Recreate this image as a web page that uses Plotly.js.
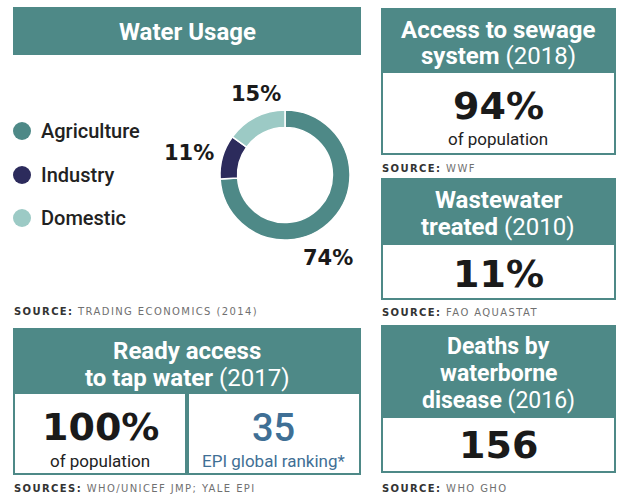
<!DOCTYPE html>
<html><head><meta charset="utf-8">
<script src="https://cdn.plot.ly/plotly-3.0.1.min.js"></script>
<style>html,body{margin:0;padding:0;background:#fff}</style>
</head><body><div id="chart" style="width:627px;height:494px"></div>
<script>
// ---- data ----
const usageCategories = ['Agriculture', 'Industry', 'Domestic'];
const usageValues = [74, 11, 15];
const usageColors = ['#4e8987', '#2c2b5c', '#9ccac5'];

const sewageAccess = 94;      // % of population (2018)
const wastewaterTreated = 11; // % (2010)
const tapWaterAccess = 100;   // % of population (2017)
const epiRanking = 35;        // EPI global ranking
const waterborneDeaths = 156; // deaths (2016)

const panelTitles = [
  ['Water Usage'],
  ['Access to sewage', 'system|(2018)'],
  ['Wastewater', 'treated|(2010)'],
  ['Ready access', 'to tap water|(2017)'],
  ['Deaths by', 'waterborne', 'disease|(2016)']
];
const sourceLabels = [
  ['SOURCE:', 'TRADING ECONOMICS (2014)'],
  ['SOURCE:', 'WWF'],
  ['SOURCE:', 'FAO AQUASTAT'],
  ['SOURCES:', 'WHO/UNICEF JMP; YALE EPI'],
  ['SOURCE:', 'WHO GHO']
];

// ---- layout helpers ----
const W = 627, H = 494;
const TEAL = '#4e8987';
const X = p => p / W, Y = p => 1 - p / H;

const shapes = [];
const annotations = [];
function rect(x0, y0, x1, y1, fill) {
  shapes.push({type: 'rect', xref: 'paper', yref: 'paper', x0: X(x0), x1: X(x1), y0: Y(y1), y1: Y(y0),
    fillcolor: fill, line: {width: 0}, layer: 'below'});
}
function text(t, x, y, size, color, family, opts) {
  annotations.push(Object.assign({text: t, xref: 'paper', yref: 'paper', x: X(x), y: Y(y),
    xanchor: 'center', yanchor: 'middle', showarrow: false, borderpad: 0,
    font: {size: size, color: color, family: family}}, opts || {}));
  return annotations.length - 1;
}
function titleLine(s) {
  const parts = s.split('|');
  return parts.length > 1 ? '<b>' + parts[0] + '</b> ' + parts[1] : '<b>' + parts[0] + '</b>';
}
function box(x0, y0, x1, yh, y1, title, lineYs, size) {
  rect(x0, y0, x1, y1, TEAL);
  if (y1 > yh) rect(x0 + 2, yh, x1 - 2, y1 - 2, '#ffffff');
  title.forEach((ln, i) => text(titleLine(ln), (x0 + x1) / 2, lineYs[i], size || 24, '#ffffff', 'Roboto'));
}
const BIG = 'DejaVu Sans';
const srcIdx = [];
function source(s, x, y) {
  srcIdx.push(text('<b>' + s[0] + '</b> <span style="color:#707070">' + s[1] + '</span>', x, y, 10, '#333333',
    'DejaVu Sans', {xanchor: 'left'}));
}

// Water usage panel
box(13, 7, 361, 55, 55, panelTitles[0], [32]);
usageCategories.forEach((c, i) => {
  const cy = [131, 175, 218][i];
  shapes.push({type: 'circle', xref: 'paper', yref: 'paper', x0: X(13), x1: X(31), y0: Y(cy + 9), y1: Y(cy - 9),
    fillcolor: usageColors[i], line: {width: 0}});
  text(c, 40, cy, 20, '#222222', 'Roboto', {xanchor: 'left', font: {size: 20, color: '#222222', family: 'Roboto', weight: 500}});
});
const pctPos = [[328, 258], [189, 153], [256, 94]];
usageValues.forEach((v, i) => text('<b>' + v + '%</b>', pctPos[i][0], pctPos[i][1], 21, '#1a1a1a', BIG));
source(sourceLabels[0], 13, 311);

// Sewage
box(381, 8, 616, 73, 155, panelTitles[1], [30, 56]);
text('<b>' + sewageAccess + '%</b>', 498, 106, 38, '#1a1a1a', BIG);
text('of population', 498, 139, 17, '#222222', 'Roboto');
source(sourceLabels[1], 381, 168);

// Wastewater
box(381, 178, 616, 245, 300, panelTitles[2], [200, 227]);
text('<b>' + wastewaterTreated + '%</b>', 498, 274, 38, '#1a1a1a', BIG);
source(sourceLabels[2], 381, 312);

// Tap water
box(13, 328, 361, 394, 475, panelTitles[3], [351, 378]);
rect(185, 394, 189, 473, TEAL);
text('<b>' + tapWaterAccess + '%</b>', 100, 427, 38, '#1a1a1a', BIG);
text('of population', 100, 461, 17, '#222222', 'Roboto');
text(String(epiRanking), 273, 428, 38, '#3f6f95', 'Roboto', {font: {size: 38, color: '#3f6f95', family: 'Roboto', weight: 500}});
text('EPI global ranking*', 273, 461, 17, '#3f6f95', 'Roboto');
source(sourceLabels[3], 13, 488);

// Deaths
box(381, 325, 616, 418, 473, panelTitles[4], [346, 373, 400], 23);
text('<b>' + waterborneDeaths + '</b>', 498, 445, 38, '#1a1a1a', BIG);
source(sourceLabels[4], 381, 488);

const data = [{
  type: 'pie', labels: usageCategories, values: usageValues, sort: false, direction: 'clockwise', rotation: 0,
  hole: 0.73, marker: {colors: usageColors, line: {color: '#ffffff', width: 1.5}},
  textinfo: 'none', hoverinfo: 'skip', showlegend: false,
  domain: {x: [X(220), X(350)], y: [Y(240), Y(110)]}
}];

const layout = {
  width: W, height: H, margin: {l: 0, r: 0, t: 0, b: 0},
  paper_bgcolor: '#ffffff', plot_bgcolor: '#ffffff', showlegend: false,
  shapes: shapes, annotations: annotations
};

Plotly.newPlot('chart', data, layout, {staticPlot: true}).then(() => {
  document.querySelectorAll('.annotation').forEach(g => {
    const idx = +g.getAttribute('data-index');
    if (srcIdx.includes(idx)) {
      const t = g.querySelector('text');
      if (!t) return;
      const b0 = t.getBBox();
      t.style.letterSpacing = '1.4px';
      const b1 = t.getBBox();
      t.setAttribute('transform', 'translate(' + (b0.x - b1.x) + ',0)');
    }
  });
});
</script>
</body></html>
